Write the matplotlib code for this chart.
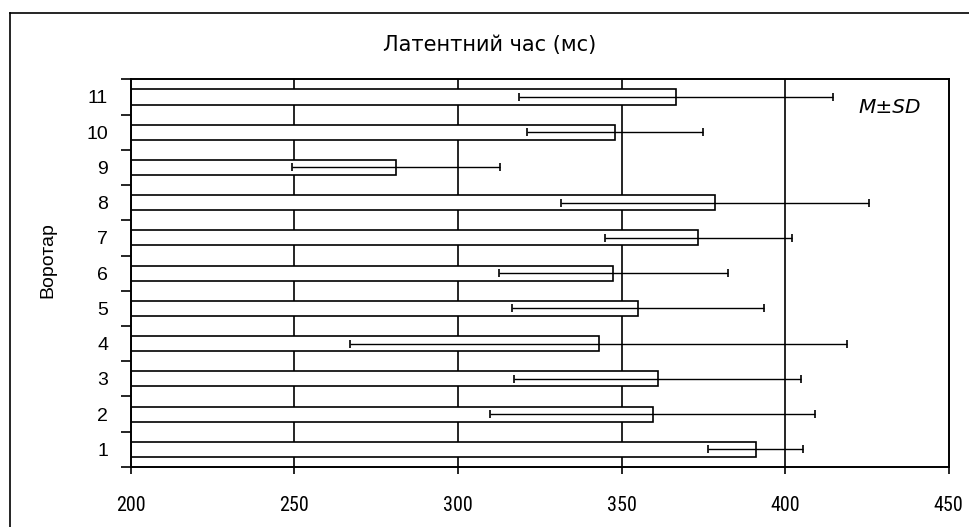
import matplotlib
matplotlib.use("Agg")
import matplotlib.pyplot as plt
from matplotlib.lines import Line2D
from matplotlib import font_manager
from matplotlib.font_manager import FontProperties
import numpy as np

categories = ["1", "2", "3", "4", "5", "6", "7", "8", "9", "10", "11"]
means = [391, 359.5, 361, 343, 355, 347.5, 373.5, 378.5, 281, 348, 366.5]
sds = [14.6, 49.7, 44, 76, 38.5, 35, 28.6, 47, 31.7, 27, 48]
xticks = [200, 250, 300, 350, 400, 450]
gridx = [250, 300, 350, 400]

title = "Латентний час (мс)"
ylabel = "Воротар"
note = "M±SD"

base = "Liberation Sans"
plt.rcParams["font.family"] = [base, "DejaVu Sans"]

# look for a condensed sans font for the x tick labels
narrow_fp = None
cands = []
for f in font_manager.fontManager.ttflist:
    nm = f.name.lower()
    fn = f.fname.lower()
    if f.style != "normal" or f.weight not in (400, "normal", "regular"):
        continue
    if "mono" in nm or "serif" in nm and "sans" not in nm:
        continue
    if ("narrow" in nm or "condensed" in nm or "condensed" in fn
            or f.stretch in ("condensed", "semi-condensed")):
        if "semi" in fn or "semi" in nm:
            continue
        score = 0 if "liberation" in nm else (1 if "roboto" in nm else 2)
        cands.append((score, f.fname))
if cands:
    cands.sort()
    narrow_fp = FontProperties(fname=cands[0][1], size=14.5)
else:
    narrow_fp = FontProperties(family=base, size=12)

fig = plt.figure(figsize=(9.7, 5.27), dpi=100)
ax = fig.add_axes([0.135, 0.1139, 0.843, 0.7356])

y = np.arange(1, len(categories) + 1)
base_x = xticks[0]
for gx in gridx:
    ax.axvline(gx, color="black", lw=1.2, zorder=1)
ax.barh(y, np.array(means) - base_x, left=base_x, height=0.43,
        color="white", edgecolor="black", linewidth=1.2, zorder=2)
ax.errorbar(means, y, xerr=sds, fmt="none", ecolor="black", elinewidth=1,
            capsize=3, capthick=1.2, zorder=3)

ax.set_xlim(xticks[0], xticks[-1])
ax.set_ylim(0.5, len(categories) + 0.5)
ax.set_xticks(xticks)
ax.set_xticklabels([str(t) for t in xticks], fontproperties=narrow_fp)
ax.tick_params(axis="x", direction="out", length=5, width=1.2, pad=16)

ax.set_yticks(np.arange(0.5, len(categories) + 1, 1.0))
ax.set_yticklabels([])
ax.tick_params(axis="y", which="major", direction="out", length=7, width=1.2)
ax.set_yticks(y, minor=True)
ax.set_yticklabels(categories, minor=True, fontsize=14)
ax.tick_params(axis="y", which="minor", length=0, pad=16.5)

for s in ax.spines.values():
    s.set_linewidth(1.4)

ax.text(0.928, 0.928, note, transform=ax.transAxes, style="italic",
        fontsize=14.5, ha="center", va="center", family="DejaVu Sans")

fig.text(0.505, 0.9146, title, ha="center", va="center", fontsize=15,
         family="DejaVu Sans")
fig.text(0.049, 0.507, ylabel, rotation=90, ha="center", va="center",
         fontsize=14)

fig.add_artist(Line2D([10 / 970, 1.0], [1 - 12.7 / 527, 1 - 12.7 / 527],
                      transform=fig.transFigure, color="black", lw=1.2))
fig.add_artist(Line2D([10 / 970, 10 / 970], [0.0, 1 - 12.7 / 527],
                      transform=fig.transFigure, color="black", lw=1.2))

fig.savefig("out.png", dpi=100)
